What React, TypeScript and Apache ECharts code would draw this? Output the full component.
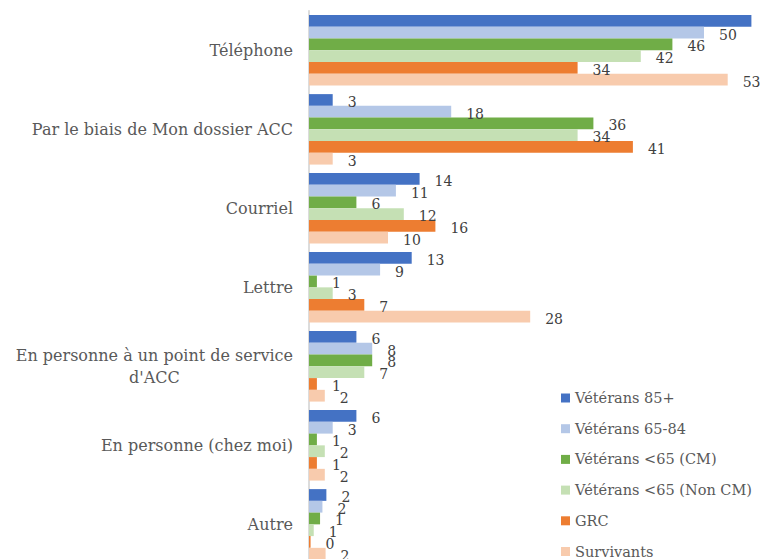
import React, { useEffect, useRef } from "react";
import * as echarts from "echarts";

const categories = [
  "Téléphone",
  "Par le biais de Mon dossier ACC",
  "Courriel",
  "Lettre",
  "En personne à un point de service d'ACC",
  "En personne (chez moi)",
  "Autre",
];

const seriesNames = [
  "Vétérans 85+",
  "Vétérans 65-84",
  "Vétérans <65 (CM)",
  "Vétérans <65 (Non CM)",
  "GRC",
  "Survivants",
];

const veterans85 = [56, 3, 14, 13, 6, 6, 2.2];
const veterans6584 = [50, 18, 11, 9, 8, 3, 1.7];
const veteransCM = [46, 36, 6, 1, 8, 1, 1.4];
const veteransNonCM = [42, 34, 12, 3, 7, 2, 0.6];
const grc = [34, 41, 16, 7, 1, 1, 0.2];
const survivants = [53, 3, 10, 28, 2, 2, 2.1];

const seriesValues = [veterans85, veterans6584, veteransCM, veteransNonCM, grc, survivants];
const colors = ["#4472C4", "#B4C7E7", "#70AD47", "#C5E0B4", "#ED7D31", "#F8CBAD"];

const FONT = "'DejaVu Serif', Georgia, serif";

function wrap(text: string, maxChars: number): string[] {
  const words = text.split(" ");
  const lines: string[] = [];
  let cur = "";
  for (const w of words) {
    const next = cur ? cur + " " + w : w;
    if (next.length > maxChars && cur) {
      lines.push(cur);
      cur = w;
    } else {
      cur = next;
    }
  }
  if (cur) lines.push(cur);
  return lines;
}

export default function App() {
  const ref = useRef<HTMLDivElement>(null);
  useEffect(() => {
    document.body.style.margin = "0";
    if (!ref.current) return;
    const chart = echarts.init(ref.current, null, { renderer: "svg" });
    chart.setOption({
      animation: false,
      backgroundColor: "#ffffff",
      grid: {
        left: 309,
        top: 10.85,
        width: 474,
        height: 553,
        containLabel: false,
        outerBoundsMode: "none",
      },
      legend: {
        type: "plain",
        orient: "vertical",
        left: 561,
        top: 390,
        height: 300,
        padding: 0,
        itemWidth: 9,
        itemHeight: 9,
        itemGap: 14.7,
        icon: "rect",
        textStyle: {
          fontFamily: FONT,
          fontSize: 14.5,
          color: "#595959",
          lineHeight: 16,
        },
        data: seriesNames,
      },
      xAxis: {
        type: "value",
        min: 0,
        max: 60,
        show: false,
        splitLine: { show: false },
      },
      yAxis: {
        type: "category",
        inverse: true,
        data: categories,
        axisTick: { show: false },
        axisLine: { show: true, lineStyle: { color: "#D0D0D0", width: 1.5 } },
        axisLabel: {
          margin: 16,
          color: "#595959",
          fontFamily: FONT,
          fontSize: 16,
          formatter: (v: string) =>
            wrap(v, 34)
              .map((l) => "{c|" + l + "}")
              .join("\n"),
          rich: {
            c: {
              align: "center",
              fontFamily: FONT,
              fontSize: 16,
              color: "#595959",
              lineHeight: 22,
            },
          },
        },
      },
      series: seriesNames.map((name, i) => ({
        name,
        type: "bar",
        data: seriesValues[i],
        barGap: "0%",
        barCategoryGap: "10.8%",
        itemStyle: { color: colors[i] },
        label: {
          show: true,
          position: "right",
          distance: 15,
          offset: [0, 2],
          fontFamily: FONT,
          fontSize: 14,
          color: "#404040",
          formatter: (p: any) => String(Math.round(p.value)),
        },
      })),
    });
    return () => chart.dispose();
  }, []);
  return <div ref={ref} style={{ width: 761, height: 559 }} />;
}
